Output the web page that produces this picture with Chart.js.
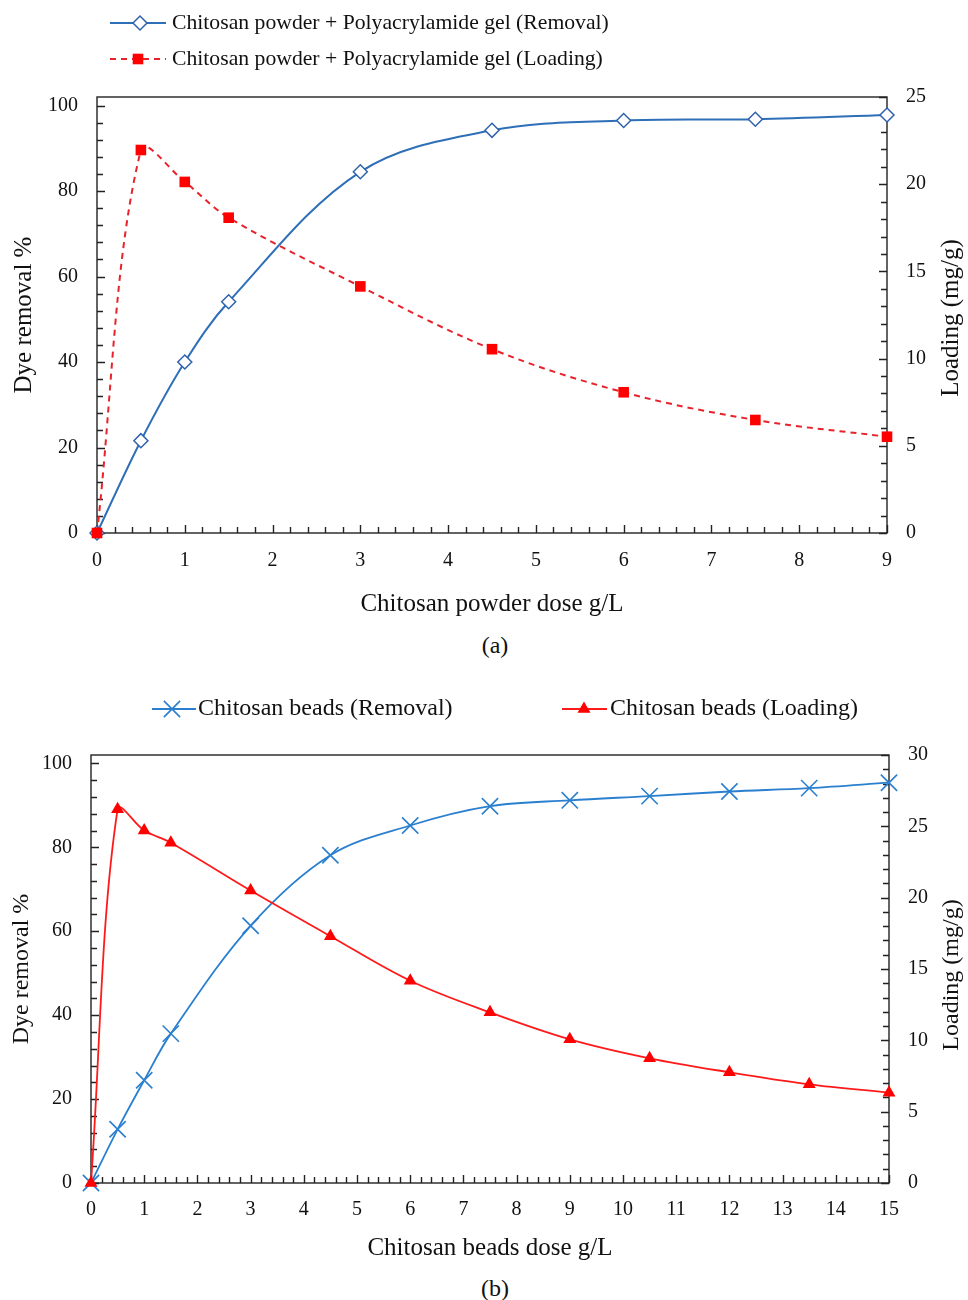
<!DOCTYPE html>
<html>
<head>
<meta charset="utf-8">
<script src="https://cdn.jsdelivr.net/npm/chart.js@4.4.1/dist/chart.umd.min.js"></script>
<style>
  body { margin: 0; background: #fff; }
  .page { position: relative; width: 968px; height: 1300px; font-family: 'Liberation Serif', 'Times New Roman', serif; color: #111; }
  canvas { position: absolute; left: 0; }
  #powderChart { top: 0; }
  #beadsChart { top: 680px; }
  .caption { position: absolute; left: 0; width: 990px; text-align: center; font-size: 24px; line-height: 30px; }
</style>
</head>
<body>
<div class="page">
  <canvas id="powderChart" width="968" height="620"></canvas>
  <div class="caption" style="top:630px">(a)</div>
  <canvas id="beadsChart" width="968" height="590"></canvas>
  <div class="caption" style="top:1273px">(b)</div>
</div>
<script>
// chitosan powder + polyacrylamide gel
const powderDose = [0, 0.5, 1, 1.5, 3, 4.5, 6, 7.5, 9];
const powderRemoval = [0, 21.6, 40.0, 54.1, 84.5, 94.2, 96.5, 96.8, 97.8];
const powderLoading = [0, 21.96, 20.13, 18.08, 14.14, 10.54, 8.07, 6.48, 5.52];

// chitosan beads
const beadsDose = [0, 0.5, 1, 1.5, 3, 4.5, 6, 7.5, 9, 10.5, 12, 13.5, 15];
const beadsRemoval = [0, 12.8, 24.5, 35.6, 61.3, 78.1, 85.2, 89.8, 91.2, 92.2, 93.3, 94.1, 95.4];
const beadsLoading = [0, 26.2, 24.7, 23.85, 20.5, 17.3, 14.18, 11.96, 10.07, 8.74, 7.76, 6.92, 6.33];

// axis labels
const removalTicks = [0, 20, 40, 60, 80, 100];
const powderLoadingTicks = [0, 5, 10, 15, 20, 25];
const beadsLoadingTicks = [0, 5, 10, 15, 20, 25, 30];

const FONT = "'Liberation Serif', 'Times New Roman', serif";
Chart.defaults.font.family = FONT;
Chart.defaults.color = '#111';

const points = (xs, ys) => xs.map((x, i) => ({ x, y: ys[i] }));
const fixedTicks = (values) => (scale) => { scale.ticks = values.map(v => ({ value: v })); };

// frame around the plot plus inward major/minor tick marks
const frameTicks = {
    id: 'frameTicks',
    beforeDatasetsDraw(chart, args, opts) {
        const { ctx, chartArea: a } = chart;
        ctx.save();
        ctx.strokeStyle = '#222';
        ctx.lineWidth = 1.4;
        ctx.beginPath();
        opts.marks.forEach(({ axis, minor, major, max }) => {
            const scale = chart.scales[axis];
            const n = Math.round(max / minor);
            for (let i = 0; i <= n; i++) {
                const v = i * minor;
                const isMajor = Math.abs(v / major - Math.round(v / major)) < 1e-6;
                const len = isMajor ? 8 : 6;
                const p = Math.round(scale.getPixelForValue(v)) + 0.5;
                if (scale.position === 'bottom') {
                    ctx.moveTo(p, a.bottom); ctx.lineTo(p, a.bottom - len);
                } else if (scale.position === 'left') {
                    ctx.moveTo(a.left, p); ctx.lineTo(a.left + len, p);
                } else {
                    ctx.moveTo(a.right, p); ctx.lineTo(a.right - len, p);
                }
            }
        });
        ctx.stroke();
        ctx.strokeRect(a.left, a.top, a.right - a.left, a.bottom - a.top);
        ctx.restore();
    }
};

// right-hand axis title, reading bottom to top
const sideTitle = {
    id: 'sideTitle',
    afterDraw(chart, args, opts) {
        const { ctx, chartArea: a } = chart;
        ctx.save();
        ctx.translate(opts.x, (a.top + a.bottom) / 2 + (opts.dy || 0));
        ctx.rotate(-Math.PI / 2);
        ctx.font = `${opts.size}px ${FONT}`;
        ctx.fillStyle = '#111';
        ctx.textAlign = 'center';
        ctx.textBaseline = 'middle';
        ctx.fillText(opts.text, 0, 0);
        ctx.restore();
    }
};

// legend entries drawn as a short line with the series marker on it
const lineLegend = {
    id: 'lineLegend',
    afterDraw(chart, args, opts) {
        const { ctx } = chart;
        opts.items.forEach(item => {
            const ds = chart.data.datasets[item.dataset];
            ctx.save();
            ctx.strokeStyle = ds.borderColor;
            ctx.lineWidth = ds.borderWidth;
            ctx.setLineDash(ds.borderDash || []);
            ctx.beginPath();
            ctx.moveTo(item.x0, item.y);
            ctx.lineTo(item.x1, item.y);
            ctx.stroke();
            ctx.setLineDash([]);
            ctx.fillStyle = ds.pointBackgroundColor;
            ctx.strokeStyle = ds.pointBorderColor;
            ctx.lineWidth = ds.pointBorderWidth;
            Chart.helpers.drawPoint(ctx, {
                pointStyle: ds.pointStyle,
                radius: ds.pointRadius,
                borderWidth: ds.pointBorderWidth,
                rotation: 0,
            }, item.marker, item.y);
            ctx.fillStyle = '#111';
            ctx.font = `${opts.size}px ${FONT}`;
            ctx.textAlign = 'left';
            ctx.textBaseline = 'middle';
            ctx.fillText(ds.label, item.text, item.y);
            ctx.restore();
        });
    }
};

const tickFont = { size: 20 };

new Chart(document.getElementById('powderChart'), {
    type: 'line',
    data: {
        datasets: [
            {
                label: 'Chitosan powder + Polyacrylamide gel (Removal)',
                data: points(powderDose, powderRemoval),
                yAxisID: 'y',
                order: 1,
                borderColor: '#2E6FB7',
                borderWidth: 2,
                pointStyle: 'rectRot',
                pointRadius: 7,
                pointBorderWidth: 1.5,
                pointBackgroundColor: '#fff',
                pointBorderColor: '#2F62AD',
                tension: 0.35,
                clip: false,
            },
            {
                label: 'Chitosan powder + Polyacrylamide gel (Loading)',
                data: points(powderDose, powderLoading),
                yAxisID: 'y2',
                order: 0,
                borderColor: '#E8222A',
                borderWidth: 2,
                borderDash: [6, 5],
                pointStyle: 'rect',
                pointRadius: 7.5,
                pointBorderWidth: 0,
                pointBackgroundColor: '#FF0000',
                pointBorderColor: '#FF0000',
                tension: 0.35,
                clip: false,
            },
        ],
    },
    options: {
        responsive: false,
        animation: false,
        events: [],
        layout: { padding: { top: 97, left: 0, right: 0, bottom: 0 } },
        plugins: {
            legend: { display: false },
            tooltip: { enabled: false },
            frameTicks: {
                marks: [
                    { axis: 'x', minor: 0.2, major: 1, max: 9 },
                    { axis: 'y', minor: 4, major: 20, max: 100 },
                    { axis: 'y2', minor: 1, major: 5, max: 25 },
                ],
            },
            sideTitle: { text: 'Loading (mg/g)', size: 25, x: 951, dy: 3 },
            lineLegend: {
                size: 21.7,
                items: [
                    { dataset: 0, y: 23, x0: 110, x1: 166, marker: 140, text: 172 },
                    { dataset: 1, y: 59, x0: 110, x1: 166, marker: 138, text: 172 },
                ],
            },
        },
        scales: {
            x: {
                type: 'linear',
                min: 0,
                max: 9,
                ticks: { stepSize: 1, padding: 16, font: tickFont },
                grid: { display: false, drawTicks: false },
                border: { display: false },
                title: { display: true, text: 'Chitosan powder dose g/L', font: { size: 25 }, padding: { top: 0, bottom: 1 } },
                afterFit: (s) => { s.height = 87; },
            },
            y: {
                position: 'left',
                min: 0,
                max: 102,
                afterBuildTicks: fixedTicks(removalTicks),
                ticks: { padding: 19, font: tickFont },
                grid: { display: false, drawTicks: false },
                border: { display: false },
                title: { display: true, text: 'Dye removal %', font: { size: 25 }, padding: { top: 9 } },
                afterFit: (s) => { s.width = 97; },
            },
            y2: {
                position: 'right',
                min: 0,
                max: 25,
                afterBuildTicks: fixedTicks(powderLoadingTicks),
                ticks: { padding: 19, font: tickFont },
                grid: { display: false, drawTicks: false },
                border: { display: false },
                afterFit: (s) => { s.width = 81; },
            },
        },
    },
    plugins: [frameTicks, sideTitle, lineLegend],
});

new Chart(document.getElementById('beadsChart'), {
    type: 'line',
    data: {
        datasets: [
            {
                label: 'Chitosan beads (Removal)',
                data: points(beadsDose, beadsRemoval),
                yAxisID: 'y',
                order: 1,
                borderColor: '#2A7FCF',
                borderWidth: 1.8,
                pointStyle: 'crossRot',
                pointRadius: 11.5,
                pointBorderWidth: 1.6,
                pointBackgroundColor: '#2A7FCF',
                pointBorderColor: '#2A7FCF',
                tension: 0.35,
                clip: false,
            },
            {
                label: 'Chitosan beads (Loading)',
                data: points(beadsDose, beadsLoading),
                yAxisID: 'y2',
                order: 0,
                borderColor: '#FF1A1A',
                borderWidth: 1.8,
                pointStyle: 'triangle',
                pointRadius: 7.5,
                pointBorderWidth: 0,
                pointBackgroundColor: '#FF0000',
                pointBorderColor: '#FF0000',
                tension: 0.35,
                clip: false,
            },
        ],
    },
    options: {
        responsive: false,
        animation: false,
        events: [],
        layout: { padding: { top: 75, left: 0, right: 0, bottom: 0 } },
        plugins: {
            legend: { display: false },
            tooltip: { enabled: false },
            frameTicks: {
                marks: [
                    { axis: 'x', minor: 0.2, major: 1, max: 15 },
                    { axis: 'y', minor: 4, major: 20, max: 100 },
                    { axis: 'y2', minor: 1, major: 5, max: 30 },
                ],
            },
            sideTitle: { text: 'Loading (mg/g)', size: 24, x: 952, dy: 6 },
            lineLegend: {
                size: 24,
                items: [
                    { dataset: 0, y: 29, x0: 152, x1: 196, marker: 172, text: 198 },
                    { dataset: 1, y: 29, x0: 562, x1: 607, marker: 584, text: 610 },
                ],
            },
        },
        scales: {
            x: {
                type: 'linear',
                min: 0,
                max: 15,
                ticks: { stepSize: 1, padding: 15, font: tickFont },
                grid: { display: false, drawTicks: false },
                border: { display: false },
                title: { display: true, text: 'Chitosan beads dose g/L', font: { size: 25 }, padding: { top: 0, bottom: 7 } },
                afterFit: (s) => { s.height = 87; },
            },
            y: {
                position: 'left',
                min: 0,
                max: 102,
                afterBuildTicks: fixedTicks(removalTicks),
                ticks: { padding: 19, font: tickFont },
                grid: { display: false, drawTicks: false },
                border: { display: false },
                title: { display: true, text: 'Dye removal %', font: { size: 24 }, padding: { top: 7 } },
                afterFit: (s) => { s.width = 91; },
            },
            y2: {
                position: 'right',
                min: 0,
                max: 30,
                afterBuildTicks: fixedTicks(beadsLoadingTicks),
                ticks: { padding: 19, font: tickFont },
                grid: { display: false, drawTicks: false },
                border: { display: false },
                afterFit: (s) => { s.width = 79; },
            },
        },
    },
    plugins: [frameTicks, sideTitle, lineLegend],
});
</script>
</body>
</html>
